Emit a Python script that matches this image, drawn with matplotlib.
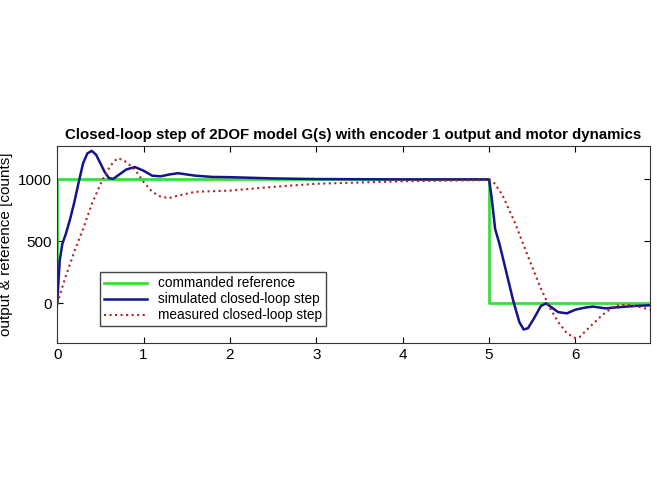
import matplotlib
matplotlib.use('Agg')
import matplotlib.pyplot as plt

plt.rcParams['font.family'] = ['Liberation Sans', 'DejaVu Sans']

# commanded reference (step up at 0, down at 5)
ref_t = [0, 0, 5, 5, 6.86]
ref_y = [0, 1000, 1000, 0, 0]

# simulated closed-loop step
sim_t = [0, 0.03, 0.06, 0.1, 0.15, 0.2, 0.25, 0.3, 0.35, 0.4, 0.45, 0.5, 0.55, 0.6, 0.65, 0.7,
         0.8, 0.9, 1.0, 1.1, 1.2, 1.3, 1.4, 1.5, 1.6, 1.8, 2.0, 2.5, 3.0, 4.0, 5.0,
         5.03, 5.07, 5.12, 5.2, 5.28, 5.35, 5.4, 5.45, 5.52, 5.6, 5.66, 5.72, 5.8, 5.9,
         6.0, 6.1, 6.2, 6.35, 6.5, 6.7, 6.86]
sim_y = [0, 350, 480, 560, 680, 820, 980, 1130, 1210, 1230, 1200, 1130, 1060, 1010, 1005, 1030,
         1080, 1100, 1070, 1030, 1025, 1040, 1050, 1040, 1030, 1020, 1018, 1008, 1003, 1000, 1000,
         850, 600, 480, 250, 20, -150, -210, -200, -120, -20, 0, -30, -70, -80,
         -50, -35, -25, -40, -30, -20, -15]

# measured closed-loop step
meas_t = [0, 0.1, 0.2, 0.3, 0.4, 0.5, 0.55, 0.6, 0.65, 0.7, 0.75, 0.8, 0.9, 1.0, 1.1, 1.2, 1.3,
          1.4, 1.6, 1.8, 2.0, 2.5, 3.0, 3.5, 4.0, 4.5, 5.0, 5.05, 5.15, 5.3, 5.45, 5.6,
          5.7, 5.8, 5.9, 6.0, 6.05, 6.15, 6.3, 6.45, 6.6, 6.75, 6.86]
meas_y = [0, 220, 420, 600, 800, 960, 1030, 1090, 1140, 1170, 1160, 1140, 1080, 980, 900, 860, 850,
          870, 900, 905, 910, 940, 965, 975, 985, 990, 995, 980, 880, 650, 380, 120,
          -30, -150, -240, -280, -270, -200, -100, -20, -10, -30, -50]

fig = plt.figure(figsize=(6.57, 4.93), dpi=100)
ax = fig.add_axes([0.087, 0.304, 0.902, 0.40])

ax.plot(ref_t, ref_y, color='#3ddc3d', lw=2, label='commanded reference')
ax.plot(sim_t, sim_y, color='#14148c', lw=1.8, label='simulated closed-loop step')
ax.plot(meas_t, meas_y, color='#b22222', lw=1.5, ls=':', label='measured closed-loop step')

ax.set_xlim(0, 6.86)
ax.set_ylim(-320, 1270)
ax.set_xticks([0, 1, 2, 3, 4, 5, 6])
ax.set_yticks([0, 500, 1000])
ax.tick_params(direction='in', top=True, right=True, labelsize=11, length=4)
ax.set_ylabel('output & reference [counts]', fontsize=11, labelpad=4)
ax.set_title('Closed-loop step of 2DOF model G(s) with encoder 1 output and motor dynamics',
             fontsize=10.8, fontweight='bold', pad=5)
ax.legend(loc='lower left', bbox_to_anchor=(0.06, 0.05), fontsize=9.8,
          fancybox=False, edgecolor='#444444', framealpha=1, handlelength=3.2,
          borderpad=0.3, labelspacing=0.15)
for s in ax.spines.values():
    s.set_color('#333333')

fig.savefig('out.png', dpi=100)
